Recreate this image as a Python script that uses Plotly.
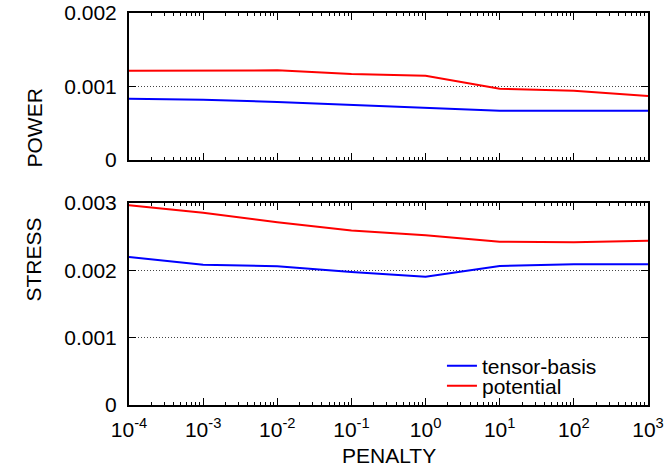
import plotly.graph_objects as go

penalty = [1e-4, 1e-3, 1e-2, 1e-1, 1e0, 1e1, 1e2, 1e3]
power_tensor = [0.000834, 0.00082, 0.00079, 0.00075, 0.00071, 0.00067, 0.00067, 0.00067]
power_potential = [0.001215, 0.00122, 0.00122, 0.00117, 0.001147, 0.00097, 0.000943, 0.00087]
stress_tensor = [0.00220, 0.002084, 0.00206, 0.001975, 0.001906, 0.002064, 0.00209, 0.00209]
stress_potential = [0.002966, 0.002856, 0.002713, 0.00259, 0.00252, 0.002425, 0.002416, 0.00244]

x_tickvals = [1e-4, 1e-3, 1e-2, 1e-1, 1e0, 1e1, 1e2, 1e3]
x_ticktext = ["10<sup>-4</sup>", "10<sup>-3</sup>", "10<sup>-2</sup>", "10<sup>-1</sup>",
              "10<sup>0</sup>", "10<sup>1</sup>", "10<sup>2</sup>", "10<sup>3</sup>"]
minor_vals = [m * 10 ** e for e in range(-4, 3) for m in range(2, 10)]

BLUE = "#0000ff"
RED = "#ff0000"
FONT = "Liberation Sans, Arial, sans-serif"
FS = 21

fig = go.Figure()
fig.add_trace(go.Scatter(x=penalty, y=power_tensor, mode="lines", line=dict(color=BLUE, width=2),
                         xaxis="x", yaxis="y", showlegend=False))
fig.add_trace(go.Scatter(x=penalty, y=power_potential, mode="lines", line=dict(color=RED, width=2),
                         xaxis="x", yaxis="y", showlegend=False))
fig.add_trace(go.Scatter(x=penalty, y=stress_tensor, mode="lines", line=dict(color=BLUE, width=2),
                         xaxis="x2", yaxis="y2", name="tensor-basis", legend="legend"))
fig.add_trace(go.Scatter(x=penalty, y=stress_potential, mode="lines", line=dict(color=RED, width=2),
                         xaxis="x2", yaxis="y2", name="potential", legend="legend2"))

top_dom = [0.625, 1.0]
bot_dom = [0.0, 0.5153]

xcommon = dict(type="log", range=[-4, 3], showline=True, linecolor="black", linewidth=2,
               mirror="allticks", ticks="inside", ticklen=7, tickcolor="black", tickwidth=1,
               tickmode="array", tickvals=x_tickvals, showgrid=False, zeroline=False,
               automargin=False,
               minor=dict(ticks="inside", ticklen=3, tickcolor="black", tickmode="array",
                          tickvals=minor_vals, showgrid=False))
ycommon = dict(showline=True, linecolor="black", linewidth=2, mirror="allticks",
               ticks="inside", ticklen=7, tickcolor="black", showgrid=True,
               gridcolor="#444444", gridwidth=1, griddash="1px,2px", zeroline=False,
               automargin=False,
               tickfont=dict(family=FONT, size=FS, color="black"), ticklabelstandoff=6)

legend_common = dict(x=0.603, xanchor="left", yanchor="middle", bgcolor="rgba(0,0,0,0)",
                     font=dict(family=FONT, size=FS, color="black"), itemwidth=30)

fig.update_layout(
    width=665, height=468,
    margin=dict(l=129, r=17, t=13, b=63),
    paper_bgcolor="white", plot_bgcolor="white",
    font=dict(family=FONT, size=FS, color="black"),
    xaxis=dict(**xcommon, domain=[0, 1], anchor="y", showticklabels=False),
    yaxis=dict(**ycommon, domain=top_dom, anchor="x", range=[0, 0.002], tickmode="array",
               tickvals=[0, 0.001, 0.002], ticktext=["0", "0.001", "0.002"]),
    xaxis2=dict(**xcommon, domain=[0, 1], anchor="y2", showticklabels=True,
                ticktext=x_ticktext, tickfont=dict(family=FONT, size=FS, color="black"),
                ticklabelstandoff=5),
    yaxis2=dict(**ycommon, domain=bot_dom, anchor="x2", range=[0, 0.003], tickmode="array",
                tickvals=[0, 0.001, 0.002, 0.003], ticktext=["0", "0.001", "0.002", "0.003"]),
    legend=dict(**legend_common, y=0.0995),
    legend2=dict(**legend_common, y=0.0485),
    annotations=[
        dict(text="POWER", xref="paper", yref="paper", x=0, y=sum(top_dom) / 2, xshift=-109,
             textangle=-90, showarrow=False, font=dict(family=FONT, size=FS)),
        dict(text="STRESS", xref="paper", yref="paper", x=0, y=sum(bot_dom) / 2, xshift=-109,
             textangle=-90, showarrow=False, font=dict(family=FONT, size=FS)),
        dict(text="PENALTY", xref="paper", yref="paper", x=0.5, y=0, yshift=-50,
             yanchor="middle", showarrow=False, font=dict(family=FONT, size=FS)),
    ],
)

fig.write_html("out.html", config={"displayModeBar": False},
               post_script="document.body.style.margin='0';document.body.style.overflow='hidden';")
